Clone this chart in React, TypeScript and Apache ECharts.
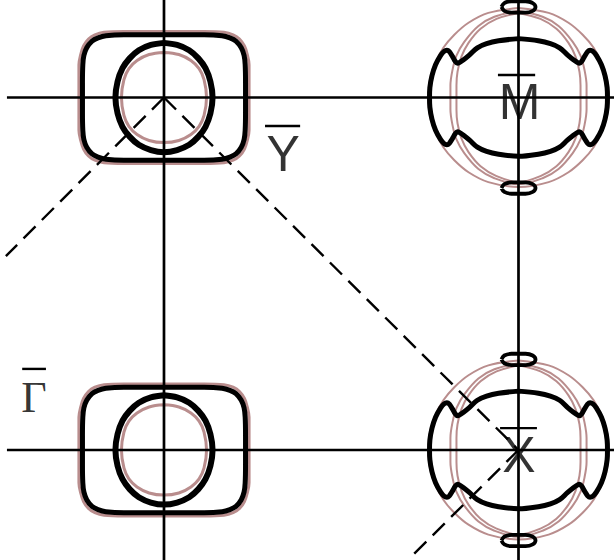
import React, { useEffect, useRef } from "react";
import * as echarts from "echarts";

// k-space in surface-BZ units: Γ̄ = (0,0), X̄ = (1,0), Ȳ = (0,1), M̄ = (1,1)
const gammaCenters: number[][] = [[0, 0], [0, 1]];
const mCenters: number[][] = [[1, 1], [1, 0]];

// visible window of k-space
const kxRange: number[] = [-0.4626, 1.2694];
const kyRange: number[] = [-0.3121, 1.2766];

// first-quadrant traces (from the top point to the right-hand point), mirrored by symmetry
const gammaOuter: number[][] = [
  [0, 0.178], [0.113, 0.178], [0.164, 0.175], [0.186, 0.169], [0.203, 0.16],
  [0.218, 0.141], [0.226, 0.119], [0.229, 0.093], [0.23, 0.042], [0.23, 0],
];
const gammaOuterPink: number[][] = [
  [0, 0.187], [0.113, 0.187], [0.169, 0.185], [0.195, 0.178], [0.213, 0.166],
  [0.227, 0.146], [0.235, 0.122], [0.24, 0.093], [0.24, 0.042], [0.24, 0],
];
const gammaInner: number[][] = [
  [0, 0.155], [0.037, 0.149], [0.071, 0.134], [0.097, 0.111], [0.117, 0.083],
  [0.131, 0.045], [0.137, 0],
];
const gammaInnerPink: number[][] = [
  [0, 0.128], [0.042, 0.122], [0.076, 0.105], [0.099, 0.082], [0.113, 0.051], [0.12, 0],
];
const mOuter: number[][] = [
  [0, 0.167], [0.056, 0.161], [0.09, 0.153], [0.116, 0.141], [0.138, 0.121],
  [0.155, 0.107], [0.167, 0.099], [0.172, 0.097], [0.178, 0.102], [0.186, 0.116],
  [0.195, 0.13], [0.202, 0.134], [0.21, 0.131], [0.22, 0.119], [0.234, 0.093],
  [0.244, 0.062], [0.25, 0.028], [0.251, 0],
];
const mPinkOuter: number[][] = [
  [0, 0.254], [0.085, 0.24], [0.141, 0.212], [0.181, 0.178], [0.212, 0.141],
  [0.234, 0.099], [0.249, 0.054], [0.254, 0],
];
const mPinkMid: number[][] = [
  [0, 0.246], [0.068, 0.229], [0.113, 0.203], [0.153, 0.158], [0.175, 0.119],
  [0.186, 0.079], [0.192, 0.034], [0.192, 0],
];
const mPinkInner: number[][] = [
  [0, 0.24], [0.062, 0.223], [0.107, 0.195], [0.141, 0.155], [0.161, 0.116],
  [0.172, 0.073], [0.175, 0.034], [0.175, 0],
];
// small pockets on the zone edge above and below M̄ / X̄
const pocketOutline: number[][] = [
  [-0.048, 0], [-0.04, 0.011], [-0.02, 0.016], [0, 0.016], [0.02, 0.016], [0.04, 0.011],
  [0.048, 0], [0.04, -0.011], [0.02, -0.016], [0, -0.016], [-0.02, -0.016], [-0.04, -0.011],
  [-0.048, 0],
];
const pocketOffsets: number[] = [0.257, -0.257];

// zone boundary lines and dashed path
const zoneLinesX: number[] = [0, 1];
const zoneLinesY: number[] = [0, 1];
const lineExtentX: number[] = [-0.443, 1.2694];
const lineExtentY: number[] = [-0.3121, 1.2766];
const dashedPaths: number[][][] = [
  [[0, 1], [-0.446, 0.55]],
  [[0, 1], [1, 0]],
  [[1, 0], [0.689, -0.311]],
];

// point labels
const labelNames: string[] = ["Γ", "Y", "M", "X"];
const labelPositions: number[][] = [[-0.367, 0.149], [0.336, 0.841], [1.003, 0.986], [1.001, -0.014]];
const overlines: number[][] = [
  [-0.4, -0.333, 0.23],
  [0.285, 0.384, 0.919],
  [0.942, 1.047, 1.064],
  [0.948, 1.052, 0.062],
];

const BLACK = "#000000";
const PINK = "#b98d8d";

function mirror(q: number[][]): number[][] {
  const out: number[][] = [];
  const push = (p: number[]) => {
    const last = out[out.length - 1];
    if (!last || last[0] !== p[0] || last[1] !== p[1]) out.push(p);
  };
  q.forEach(([x, y]) => push([x, y]));
  [...q].reverse().forEach(([x, y]) => push([x, -y]));
  q.forEach(([x, y]) => push([-x, -y]));
  [...q].reverse().forEach(([x, y]) => push([-x, y]));
  return out;
}

function curve(points: number[][], cx: number, cy: number, color: string, width: number, z: number) {
  return {
    type: "line",
    data: points.map(([x, y]) => [cx + x, cy + y]),
    showSymbol: false,
    symbol: "none",
    smooth: 0.35,
    clip: false,
    silent: true,
    z,
    lineStyle: { color, width },
  };
}

export default function App() {
  const ref = useRef<HTMLDivElement>(null);
  useEffect(() => {
    if (!ref.current) return;
    const chart = echarts.init(ref.current, null, { renderer: "svg" });
    const series: any[] = [];

    gammaCenters.forEach(([cx, cy]) => {
      series.push(curve(mirror(gammaOuterPink), cx, cy, PINK, 3, 1));
      series.push(curve(mirror(gammaInnerPink), cx, cy, PINK, 3, 1));
      series.push(curve(mirror(gammaOuter), cx, cy, BLACK, 5, 2));
      series.push(curve(mirror(gammaInner), cx, cy, BLACK, 6, 2));
    });
    mCenters.forEach(([cx, cy]) => {
      series.push(curve(mirror(mPinkOuter), cx, cy, PINK, 2, 1));
      series.push(curve(mirror(mPinkMid), cx, cy, PINK, 2, 1));
      series.push(curve(mirror(mPinkInner), cx, cy, PINK, 2, 1));
      series.push(curve(mirror(mOuter), cx, cy, BLACK, 5, 2));
      pocketOffsets.forEach((dy) => {
        series.push(curve(pocketOutline, cx, cy + dy, BLACK, 3.8, 2));
      });
    });

    zoneLinesX.forEach((x) => {
      series.push({
        type: "line", data: [[x, lineExtentY[0]], [x, lineExtentY[1]]], showSymbol: false,
        symbol: "none", clip: false, silent: true, z: 3, lineStyle: { color: BLACK, width: 2.7 },
      });
    });
    zoneLinesY.forEach((y) => {
      series.push({
        type: "line", data: [[lineExtentX[0], y], [lineExtentX[1], y]], showSymbol: false,
        symbol: "none", clip: false, silent: true, z: 3, lineStyle: { color: BLACK, width: 2.7 },
      });
    });
    dashedPaths.forEach((path) => {
      series.push({
        type: "line", data: path, showSymbol: false, symbol: "none", clip: false, silent: true, z: 3,
        lineStyle: { color: BLACK, width: 2.4, type: [17, 9] },
      });
    });
    overlines.forEach(([x1, x2, y]) => {
      series.push({
        type: "line", data: [[x1, y], [x2, y]], showSymbol: false, symbol: "none", clip: false,
        silent: true, z: 4, lineStyle: { color: BLACK, width: 2.4 },
      });
    });
    series.push({
      type: "scatter",
      symbolSize: 1,
      clip: false,
      silent: true,
      z: 5,
      itemStyle: { color: "rgba(0,0,0,0)" },
      data: labelNames.map((name, i) => ({
        value: labelPositions[i],
        name,
        label: i === 0
          ? { fontFamily: "Liberation Serif", fontSize: 44, color: BLACK, textBorderWidth: 0 }
          : { fontFamily: "Liberation Sans", fontSize: 50, color: BLACK, textBorderWidth: 0 },
      })),
      label: {
        show: true,
        position: "inside",
        formatter: (p: any) => p.name,
        color: BLACK,
        textBorderWidth: 0,
        align: "center",
        verticalAlign: "middle",
      },
    });

    chart.setOption({
      animation: false,
      backgroundColor: "#ffffff",
      grid: { left: 0, right: 0, top: 0, bottom: 0, containLabel: false },
      xAxis: { type: "value", min: kxRange[0], max: kxRange[1], show: false },
      yAxis: { type: "value", min: kyRange[0], max: kyRange[1], show: false },
      series,
    });
    return () => chart.dispose();
  }, []);
  return (
    <div
      ref={ref}
      style={{ position: "fixed", left: 0, top: 0, width: 614, height: 560, background: "#fff" }}
    />
  );
}
